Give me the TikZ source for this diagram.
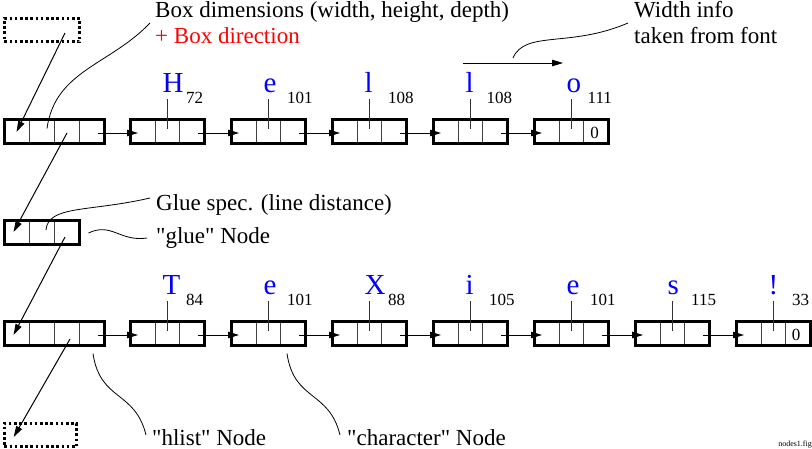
\documentclass[tikz,border=0pt]{standalone}
\usepackage{fontspec}
\setmainfont{Liberation Serif}
\usetikzlibrary{calc, positioning, arrows.meta}

\tikzset{
  divider/.style={line width=.8pt, black!75},
  nodebox/.style={draw, line width=3pt, inner sep=0pt, minimum height=24pt},
  hlistbox/.style={nodebox, minimum width=100pt, path picture={
    \draw[divider] ([xshift=25pt]path picture bounding box.south west) -- +(0,24pt)
      ([xshift=50pt]path picture bounding box.south west) -- +(0,24pt)
      ([xshift=75pt]path picture bounding box.south west) -- +(0,24pt);}},
  gluebox/.style={nodebox, minimum width=75pt, path picture={
    \draw[divider] ([xshift=25pt]path picture bounding box.south west) -- +(0,24pt)
      ([xshift=50pt]path picture bounding box.south west) -- +(0,24pt);}},
  charbox/.style={nodebox, minimum width=74pt, path picture={
    \draw[divider] ([xshift=24.67pt]path picture bounding box.south west) -- +(0,24pt)
      ([xshift=49.33pt]path picture bounding box.south west) -- +(0,24pt);}},
  dotbox/.style={draw, line width=2.6pt, dash pattern=on 2.6pt off 2.6pt, inner sep=0pt, minimum height=23.4pt},
  ptr/.style={line width=1pt, -{Triangle[length=11pt,width=6.5pt]}},
  stem/.style={line width=1pt, black!80},
  lead/.style={line width=.8pt},
  note/.style={font=\fontsize{23}{26}\selectfont, inner sep=0pt, anchor=base west},
  glyph/.style={font=\fontsize{29}{32}\selectfont, text=blue, inner sep=0pt, anchor=base west},
  ccode/.style={font=\fontsize{17}{19}\selectfont, inner sep=0pt, anchor=base west},
}

\begin{document}
\begin{tikzpicture}[x=1pt,y=-1pt]
\useasboundingbox (0,0) rectangle (812,448);
%說明
\node[note] (dimtxt) at (155,17) {Box dimensions (width, height, depth)};
\node[note, text=red] (dirtxt) at (155,43) {+ Box direction};
\node[note] (widthtxt) at (634,17) {Width info};
\node[note] (fonttxt) at (634,43) {taken from font};
\node[note] (gluespec) at (156,210) {Glue spec. (line distance)};
\node[note] (gluetxt) at (156,243) {\textquotedbl glue\textquotedbl{} Node};
\node[note] (hlisttxt) at (152,445) {\textquotedbl hlist\textquotedbl{} Node};
\node[note] (chartxt) at (347,445) {\textquotedbl character\textquotedbl{} Node};
\node[font=\fontsize{8}{9}\selectfont, inner sep=0pt, anchor=base east] (figname) at (812,446) {nodes1.fig};
\coordinate (wfrom) at (463,63);
\coordinate (wto) at (563,63);
\draw[ptr] (wfrom) -- (wto);

\node[dotbox, minimum width=75.4pt] (upper) at (42,30) {};
\node[dotbox, minimum width=72.4pt] (lower) at (40.5,435) {};
\node[gluebox] (glue) at (42,232.5) {};

%第一行
\node[hlistbox] (a0) at (54.5,131.5) {};
\node[charbox, right=23pt of a0] (a1) {};
\node[charbox, right=24pt of a1] (a2) {};
\node[charbox, right=24pt of a2] (a3) {};
\node[charbox, right=24pt of a3] (a4) {};
\node[charbox, right=24pt of a4] (a5) {};
\node[ccode, anchor=center] (z1) at ($(a5.center)+(23,1)$) {0};

\node[glyph] (ga1) at ($(a1.north)+(-5,-25.5)$) {H};
\node[glyph] (ga2) at ($(a2.north)+(-5,-25.5)$) {e};
\node[glyph] (ga3) at ($(a3.north)+(-5,-25.5)$) {l};
\node[glyph] (ga4) at ($(a4.north)+(-5,-25.5)$) {l};
\node[glyph] (ga5) at ($(a5.north)+(-5,-25.5)$) {o};
\node[ccode] (ca1) at ($(a1.north)+(18.5,-14.5)$) {72};
\node[ccode] (ca2) at ($(a2.north)+(18.5,-14.5)$) {101};
\node[ccode] (ca3) at ($(a3.north)+(18.5,-14.5)$) {108};
\node[ccode] (ca4) at ($(a4.north)+(16,-14.5)$) {108};
\node[ccode] (ca5) at ($(a5.north)+(16,-14.5)$) {111};

\draw[stem] ($(a1.center)+(0,-3)$) -- ($(a1.north)+(0,-19)$);
\draw[stem] ($(a2.center)+(0,-3)$) -- ($(a2.north)+(0,-19)$);
\draw[stem] ($(a3.center)+(0,-3)$) -- ($(a3.north)+(0,-19)$);
\draw[stem] ($(a4.center)+(0,-3)$) -- ($(a4.north)+(0,-19)$);
\draw[stem] ($(a5.center)+(0,-3)$) -- ($(a5.north)+(0,-19)$);

\draw[ptr] ($(a0.east)+(-8,1.5)$) -- ($(a1.west)+(9,1.5)$);
\draw[ptr] ($(a1.east)+(-8,1.5)$) -- ($(a2.west)+(9,1.5)$);
\draw[ptr] ($(a2.east)+(-8,1.5)$) -- ($(a3.west)+(9,1.5)$);
\draw[ptr] ($(a3.east)+(-8,1.5)$) -- ($(a4.west)+(9,1.5)$);
\draw[ptr] ($(a4.east)+(-8,1.5)$) -- ($(a5.west)+(9,1.5)$);

%第二行
\node[hlistbox] (b0) at (54.5,333.5) {};
\node[charbox, right=23pt of b0] (b1) {};
\node[charbox, right=24pt of b1] (b2) {};
\node[charbox, right=24pt of b2] (b3) {};
\node[charbox, right=24pt of b3] (b4) {};
\node[charbox, right=24pt of b4] (b5) {};
\node[charbox, right=24pt of b5] (b6) {};
\node[charbox, right=24pt of b6] (b7) {};
\node[ccode, anchor=center] (z2) at ($(b7.center)+(22.5,1)$) {0};

\node[glyph] (gb1) at ($(b1.north)+(-5,-25.5)$) {T};
\node[glyph] (gb2) at ($(b2.north)+(-5,-25.5)$) {e};
\node[glyph] (gb3) at ($(b3.north)+(-5,-25.5)$) {X};
\node[glyph] (gb4) at ($(b4.north)+(-5,-25.5)$) {i};
\node[glyph] (gb5) at ($(b5.north)+(-5,-25.5)$) {e};
\node[glyph] (gb6) at ($(b6.north)+(-5,-25.5)$) {s};
\node[glyph] (gb7) at ($(b7.north)+(-5,-25.5)$) {!};
\node[ccode] (cb1) at ($(b1.north)+(18.5,-14.5)$) {84};
\node[ccode] (cb2) at ($(b2.north)+(18.5,-14.5)$) {101};
\node[ccode] (cb3) at ($(b3.north)+(18.5,-14.5)$) {88};
\node[ccode] (cb4) at ($(b4.north)+(18.5,-14.5)$) {105};
\node[ccode] (cb5) at ($(b5.north)+(18.5,-14.5)$) {101};
\node[ccode] (cb6) at ($(b6.north)+(18.5,-14.5)$) {115};
\node[ccode] (cb7) at ($(b7.north)+(18.5,-14.5)$) {33};

\draw[stem] ($(b1.center)+(0,-3)$) -- ($(b1.north)+(0,-19)$);
\draw[stem] ($(b2.center)+(0,-3)$) -- ($(b2.north)+(0,-19)$);
\draw[stem] ($(b3.center)+(0,-3)$) -- ($(b3.north)+(0,-19)$);
\draw[stem] ($(b4.center)+(0,-3)$) -- ($(b4.north)+(0,-19)$);
\draw[stem] ($(b5.center)+(0,-3)$) -- ($(b5.north)+(0,-19)$);
\draw[stem] ($(b6.center)+(0,-3)$) -- ($(b6.north)+(0,-19)$);
\draw[stem] ($(b7.center)+(0,-3)$) -- ($(b7.north)+(0,-19)$);

\draw[ptr] ($(b0.east)+(-8,1.5)$) -- ($(b1.west)+(9,1.5)$);
\draw[ptr] ($(b1.east)+(-8,1.5)$) -- ($(b2.west)+(9,1.5)$);
\draw[ptr] ($(b2.east)+(-8,1.5)$) -- ($(b3.west)+(9,1.5)$);
\draw[ptr] ($(b3.east)+(-8,1.5)$) -- ($(b4.west)+(9,1.5)$);
\draw[ptr] ($(b4.east)+(-8,1.5)$) -- ($(b5.west)+(9,1.5)$);
\draw[ptr] ($(b5.east)+(-8,1.5)$) -- ($(b6.west)+(9,1.5)$);
\draw[ptr] ($(b6.east)+(-8,1.5)$) -- ($(b7.west)+(9,1.5)$);

%往下的指標
\draw[ptr] ($(upper.center)+(23,3)$) -- ($(a0.west)+(13.5,0.5)$);
\draw[ptr] ($(a0.center)+(12.5,1.5)$) -- ($(glue.west)+(10.5,-0.5)$);
\draw[ptr] ($(glue.center)+(23,4.5)$) -- ($(b0.west)+(10.5,1.5)$);
\draw[ptr] ($(b0.center)+(15.5,5.5)$) -- ($(lower.west)+(10.7,2)$);

%引線
\draw[lead] ($(dimtxt.base west)+(-5,6)$) .. controls +(-40,42) and +(8,-58) .. ($(a0.center)+(-7.5,-3)$);
\draw[lead] ($(widthtxt.base west)+(-6,6)$) .. controls +(-58,25) and +(12,-28) .. ($(wfrom)!.5!(wto)+(0,-5)$);
\draw[lead] ($(gluespec.base west)+(-6,-12)$) .. controls +(-60,14) and +(2,-25) .. ($(glue.center)+(4,-2.5)$);
\draw[lead] ($(gluetxt.base west)+(-9,-5)$) .. controls +(-27,4) and +(23,-11) .. ($(glue.east)+(7.5,0.5)$);
\draw[lead] ($(b0.south)+(38.5,6.5)$) .. controls +(7,48) and +(-11,-45) .. ($(hlisttxt.base west)+(-6,-10)$);
\draw[lead] ($(b2.south)+(18.5,6.5)$) .. controls +(7,48) and +(-11,-45) .. ($(chartxt.base west)+(-7,-10)$);
\end{tikzpicture}
\end{document}
